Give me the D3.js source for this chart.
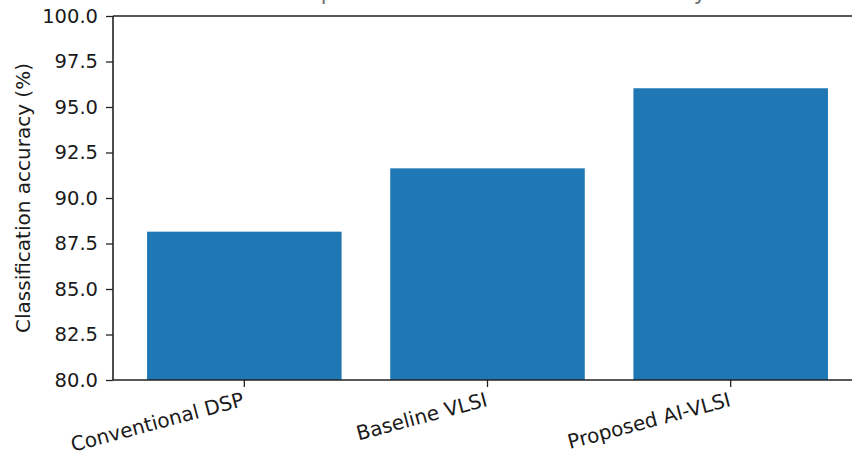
<!DOCTYPE html>
<html>
<head>
<meta charset="utf-8">
<script src="https://cdn.jsdelivr.net/npm/d3@7"></script>
<style>
  html, body { margin: 0; padding: 0; background: #fff; }
  svg { display: block; }
  text { font-family: "DejaVu Sans", sans-serif; fill: #1a1a1a; }
</style>
</head>
<body>
<div id="chart"></div>
<script>
const categories = ["Conventional DSP", "Baseline VLSI", "Proposed AI-VLSI"];
const accuracy = [88.15, 91.63, 96.03];
const yTicks = [80.0, 82.5, 85.0, 87.5, 90.0, 92.5, 95.0, 97.5, 100.0];
const titleText = "Comparison of Classification Accuracy";
const yLabel = "Classification accuracy (%)";

const W = 852, H = 455;
const plot = { left: 113, right: 862, top: 16, bottom: 380 };

const svg = d3.select("#chart").append("svg")
  .attr("width", W).attr("height", H);

const x = d3.scaleBand()
  .domain(categories)
  .range([plot.left, plot.right])
  .paddingInner(0.2)
  .paddingOuter(0.14);

const y = d3.scaleLinear()
  .domain([80, 100])
  .range([plot.bottom, plot.top]);

// Bars
svg.append("g").selectAll("rect")
  .data(categories.map((c, i) => ({ c, v: accuracy[i] })))
  .join("rect")
  .attr("x", d => x(d.c))
  .attr("width", x.bandwidth())
  .attr("y", d => y(d.v))
  .attr("height", d => y(80) - y(d.v))
  .attr("fill", "#1f77b4");

// Y axis
const yAxis = d3.axisLeft(y)
  .tickValues(yTicks)
  .tickFormat(d => d.toFixed(1))
  .tickSizeInner(7)
  .tickSizeOuter(0)
  .tickPadding(8);
const gy = svg.append("g")
  .attr("transform", `translate(${plot.left},0)`)
  .call(yAxis);
gy.select(".domain").remove();
gy.selectAll(".tick line").attr("stroke", "#222").attr("stroke-width", 1.3);
gy.selectAll(".tick text")
  .style("font-size", "19.5px")
  .style("font-family", "DejaVu Sans, sans-serif")
  .attr("fill", "#1a1a1a");

// X axis
const xAxis = d3.axisBottom(x)
  .tickSizeInner(7)
  .tickSizeOuter(0)
  .tickPadding(6);
const gx = svg.append("g")
  .attr("transform", `translate(0,${plot.bottom})`)
  .call(xAxis);
gx.select(".domain").remove();
gx.selectAll(".tick line").attr("stroke", "#222").attr("stroke-width", 1.3);
gx.selectAll(".tick text")
  .style("font-size", "20px")
  .style("font-family", "DejaVu Sans, sans-serif")
  .attr("fill", "#1a1a1a")
  .attr("text-anchor", "end")
  .attr("dy", null)
  .attr("y", null)
  .attr("transform", "translate(-3,11) rotate(-15)")
  .attr("dominant-baseline", "hanging");

// Spines
const spines = svg.append("g").attr("stroke", "#222").attr("stroke-width", 1.6).attr("fill", "none");
spines.append("line").attr("x1", plot.left).attr("x2", plot.left).attr("y1", plot.top).attr("y2", plot.bottom);
spines.append("line").attr("x1", plot.left).attr("x2", plot.right).attr("y1", plot.bottom).attr("y2", plot.bottom);
spines.append("line").attr("x1", plot.left).attr("x2", plot.right).attr("y1", plot.top).attr("y2", plot.top);
spines.append("line").attr("x1", plot.right).attr("x2", plot.right).attr("y1", plot.top).attr("y2", plot.bottom);

// Y label
svg.append("text")
  .attr("transform", `translate(30,${(plot.top + plot.bottom) / 2}) rotate(-90)`)
  .attr("text-anchor", "middle")
  .style("font-size", "20px")
  .text(yLabel);

// Title (mostly cropped at the top edge, as in the reference)
svg.append("text")
  .attr("x", (plot.left + plot.right) / 2)
  .attr("y", -1)
  .attr("text-anchor", "middle")
  .style("font-size", "23px")
  .attr("fill", "#1a1a1a")
  .attr("opacity", 0.6)
  .text(titleText);
</script>
</body>
</html>
